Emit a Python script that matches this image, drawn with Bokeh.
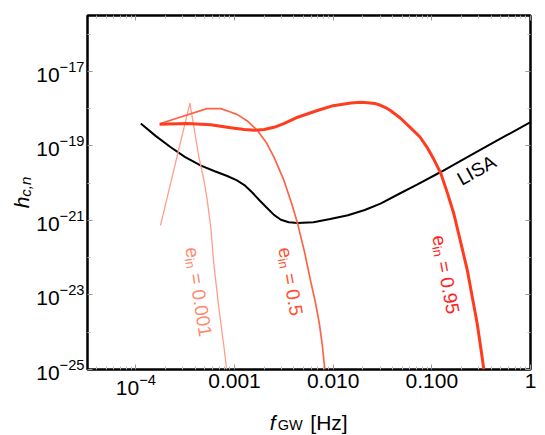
import numpy as np
from bokeh.plotting import figure
from bokeh.models import (FixedTicker, LogAxis, LogTickFormatter, Label, Range1d,
                          CustomJSTickFormatter)
from bokeh.core.properties import value
from bokeh.embed import file_html
from bokeh.resources import INLINE

# ---- data: log10(f_GW [Hz]) and log10(h_c,n) ----
lisa_lx = [-3.95, -3.80, -3.65, -3.50, -3.34, -3.20, -3.08, -2.98, -2.90, -2.82, -2.75, -2.68,
           -2.60, -2.53, -2.45, -2.36, -2.20, -2.03, -1.85, -1.68, -1.52, -1.32, -1.15, -0.91,
           -0.60, -0.30, 0.0]
lisa_ly = [-18.40, -18.73, -19.03, -19.30, -19.53, -19.68, -19.80, -19.92, -20.05, -20.25, -20.45, -20.64,
           -20.85, -20.98, -21.05, -21.07, -21.05, -20.96, -20.86, -20.72, -20.55, -20.27, -20.04, -19.70,
           -19.24, -18.80, -18.36]

e0001_lx = [-3.75, -3.452, -3.40, -3.361, -3.31, -3.276, -3.24, -3.21, -3.16, -3.107, -3.08]
e0001_ly = [-21.13, -17.85, -18.68, -19.30, -19.92, -20.46, -21.20, -22.16, -23.32, -24.39, -25.0]

e05_lx = [-3.75, -3.28, -3.14, -3.04, -2.97, -2.87, -2.77, -2.68, -2.60, -2.50, -2.42,
          -2.36, -2.29, -2.23, -2.18, -2.14, -2.11, -2.085]
e05_ly = [-18.40, -18.00, -18.00, -18.09, -18.16, -18.33, -18.58, -18.90, -19.30, -19.92, -20.55,
          -21.09, -21.85, -22.61, -23.20, -23.77, -24.35, -25.0]

e095_lx = [-3.76, -3.48, -3.24, -3.04, -2.90, -2.80, -2.70, -2.60, -2.50, -2.36, -2.16, -2.00,
           -1.82, -1.72, -1.65, -1.58, -1.52, -1.47, -1.42, -1.32, -1.22, -1.12, -1.05, -0.98,
           -0.91, -0.84, -0.777, -0.70, -0.64, -0.58, -0.54, -0.50, -0.473]
e095_ly = [-18.42, -18.40, -18.43, -18.51, -18.56, -18.58, -18.56, -18.50, -18.40, -18.23, -18.05, -17.92,
           -17.85, -17.83, -17.84, -17.86, -17.91, -17.97, -18.05, -18.25, -18.50, -18.76, -19.03, -19.36,
           -19.73, -20.28, -20.82, -21.67, -22.34, -23.20, -23.77, -24.49, -25.0]

x_major = [1e-4, 1e-3, 1e-2, 1e-1, 1.0]
x_labels = {1e-3: "0.001", 1e-2: "0.010", 1e-1: "0.100", 1.0: "1"}
y_major = [1e-25, 1e-23, 1e-21, 1e-19, 1e-17]
y_minor = [1e-24, 1e-22, 1e-20, 1e-18, 1e-16]
x_minor = [k * 10.0 ** d for d in range(-5, 0) for k in range(2, 10)]

X0, Y0 = 10 ** -4.49, 1e-25   # frame bottom-left corner (data)
c001, c05, c095 = "#FF9E8A", "#FF6347", "#FF3C1E"
FONT = "Liberation Sans"

p = figure(width=545, height=435, x_axis_type="log", y_axis_type="log",
           x_range=Range1d(X0, 1.0), y_range=Range1d(Y0, 10 ** -15.5),
           output_backend="svg", toolbar_location=None,
           min_border_left=87, min_border_right=15, min_border_top=15, min_border_bottom=66)
p.grid.visible = False
p.outline_line_color = "black"
p.outline_line_width = 2.5
p.background_fill_color = "white"
p.border_fill_color = "white"


def style_axis(ax, labels=True):
    ax.axis_line_color = None
    ax.major_tick_in = 5
    ax.major_tick_out = 0
    ax.minor_tick_in = 3
    ax.minor_tick_out = 0
    ax.major_tick_line_color = "#999999"
    ax.minor_tick_line_color = "#bbbbbb"
    ax.major_label_text_font = FONT
    ax.major_label_text_color = "black"
    ax.major_label_text_font_size = "21px"
    if not labels:
        ax.formatter = CustomJSTickFormatter(code="return ''")
        ax.major_label_standoff = 0


xa = p.xaxis[0]
xa.ticker = FixedTicker(ticks=x_major, minor_ticks=x_minor)
xa.formatter = LogTickFormatter()
xa.major_label_overrides = x_labels
xa.major_label_standoff = 4
style_axis(xa)

ya = p.yaxis[0]
ya.ticker = FixedTicker(ticks=y_major, minor_ticks=y_minor)
ya.formatter = LogTickFormatter()
ya.major_label_standoff = 3
style_axis(ya)

top = LogAxis(ticker=FixedTicker(ticks=x_major, minor_ticks=x_minor))
style_axis(top, labels=False)
p.add_layout(top, "above")
right = LogAxis(ticker=FixedTicker(ticks=y_major, minor_ticks=y_minor))
style_axis(right, labels=False)
p.add_layout(right, "right")


def tenpow(a):
    return 10.0 ** np.array(a)


p.line(tenpow(lisa_lx), tenpow(lisa_ly), line_color="black", line_width=2)
p.line(tenpow(e0001_lx), tenpow(e0001_ly), line_color=c001, line_width=1.3)
p.line(tenpow(e05_lx), tenpow(e05_ly), line_color=c05, line_width=1.7)
p.line(tenpow(e095_lx), tenpow(e095_ly), line_color=c095, line_width=3, line_join="round")


def rich_label(x, y, pieces, angle_deg):
    th = np.radians(angle_deg)
    c, s_ = np.cos(th), np.sin(th)
    for text, s, d, size, color, style in pieces:
        xo = s * c + d * s_
        yo = s * s_ - d * c
        p.add_layout(Label(x=x, y=y, text=text, angle=float(th),
                           x_offset=float(xo), y_offset=float(yo), text_font=FONT,
                           text_font_size=f"{size}px", text_color=color, text_font_style=style,
                           text_align="left", text_baseline="alphabetic"))


def e_label(x, y, val, color, angle):
    F, S = 19, 13
    s_in = 0.556 * F
    s_eq = s_in + 0.78 * S + 0.3 * F
    rich_label(x, y, [("e", 0, 0, F, color, "normal"),
                      ("in", s_in, 4, S, color, "normal"),
                      ("= " + val, s_eq, 0, F, color, "normal")], angle)


e_label(10 ** -3.435, 10 ** -21.72, "0.001", "#FF8A70", -81)
e_label(10 ** -2.492, 10 ** -21.72, "0.5", "#FF5030", -80)
e_label(10 ** -0.932, 10 ** -21.40, "0.95", "#FF1E1E", -79.4)

rich_label(10 ** -0.73, 10 ** -19.92, [("LISA", 0, 0, 19, "black", "normal")], 29)


# axis titles: text glyphs at overlay level, pixel offsets from the frame's bottom-left corner
def title_text(dx, dy_up, pieces, angle_deg):
    th = np.radians(angle_deg)
    c, s_ = np.cos(th), np.sin(th)
    for text, s, d, size, style in pieces:
        xo = dx + s * c + d * s_
        yo = dy_up + s * s_ - d * c
        p.text(x=[X0], y=[Y0], text=[text], angle=float(th), x_offset=float(xo), y_offset=float(-yo),
               text_font=value(FONT), text_font_size=value(f"{size}px"),
               text_font_style=value(style), text_color="black",
               text_align="left", text_baseline="alphabetic", level="overlay")


title_text(-65.7, 161.3, [("h", 0, 0, 21, "italic"), ("c,n", 11.5, 3.5, 15, "italic")], 90)
title_text(182.3, -53.0, [("f", 0, 0, 21, "italic")], 0)
title_text(190.3, -55.7, [("GW", 0, 0, 14.5, "normal")], 0)
title_text(222.8, -53.0, [("[Hz]", 0, 0, 21, "normal")], 0)

open("out.html", "w").write(file_html(p, INLINE))
